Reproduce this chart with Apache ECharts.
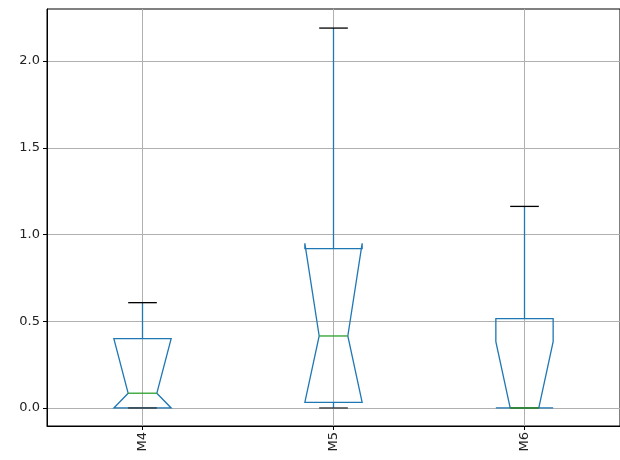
<!DOCTYPE html>
<html>
<head>
<meta charset="utf-8">
<script src="https://cdn.jsdelivr.net/npm/echarts@6/dist/echarts.min.js"></script>
<style>
  html, body { margin: 0; padding: 0; background: #fff; }
  #chart { width: 620px; height: 460px; }
</style>
</head>
<body>
<div id="chart"></div>
<script>
// Notched box plot summaries per group
const categories  = ['M4', 'M5', 'M6'];
const whiskerLow  = [0.0, 0.0, 0.0];
const q1          = [0.0, 0.032, 0.0];
const notchLow    = [0.0, 0.032, 0.0];
const median      = [0.085, 0.415, 0.0];
const notchHigh   = [0.40, 0.949, 0.382];
const q3          = [0.40, 0.918, 0.515];
const whiskerHigh = [0.607, 2.19, 1.162];
const yTicks      = [0.0, 0.5, 1.0, 1.5, 2.0];
const xPositions  = categories.map((_, i) => i + 1);

const BOX_WIDTH = 0.3;          // in x-axis units
const CAP_WIDTH = BOX_WIDTH / 2;
const BLUE = '#1f77b4';
const GREEN = '#2ca02c';
const LINE_W = 1.3;

const boxData = categories.map((_, i) => [
  xPositions[i], whiskerLow[i], q1[i], notchLow[i], median[i],
  notchHigh[i], q3[i], whiskerHigh[i]
]);

function renderBox(params, api) {
  const x = api.value(0);
  const wl = api.value(1), b1 = api.value(2), nl = api.value(3);
  const md = api.value(4), nh = api.value(5), b3 = api.value(6), wh = api.value(7);
  const c = (xv, yv) => api.coord([xv, yv]);
  const L = x - BOX_WIDTH / 2, R = x + BOX_WIDTH / 2;
  const CL = x - CAP_WIDTH / 2, CR = x + CAP_WIDTH / 2;

  const boxPts = [
    c(L, b1), c(L, nl), c(CL, md), c(L, nh), c(L, b3),
    c(R, b3), c(R, nh), c(CR, md), c(R, nl), c(R, b1)
  ];
  const line = (p0, p1, color) => ({
    type: 'line',
    shape: { x1: p0[0], y1: p0[1], x2: p1[0], y2: p1[1] },
    style: { stroke: color, lineWidth: LINE_W }
  });

  return {
    type: 'group',
    children: [
      {
        type: 'polygon',
        shape: { points: boxPts },
        style: { fill: 'none', stroke: BLUE, lineWidth: LINE_W, lineJoin: 'miter' }
      },
      line(c(x, b3), c(x, wh), BLUE),
      line(c(x, b1), c(x, wl), BLUE),
      line(c(CL, wh), c(CR, wh), '#000'),
      line(c(CL, wl), c(CR, wl), '#333'),
      line(c(CL, md), c(CR, md), GREEN)
    ]
  };
}

const chart = echarts.init(document.getElementById('chart'), null, { renderer: 'canvas' });
chart.setOption({
  animation: false,
  backgroundColor: '#fff',
  grid: {
    left: 47, top: 9, width: 577, height: 417,
    show: true, borderColor: '#000', borderWidth: 1, backgroundColor: 'transparent'
  },
  xAxis: {
    type: 'value',
    min: 0.5, max: 3.5,
    axisLine: { show: true, onZero: false, lineStyle: { color: '#000', width: 1 } },
    axisTick: { show: true, length: 4, customValues: xPositions, lineStyle: { color: '#000' } },
    axisLabel: {
      customValues: xPositions,
      rotate: 90,
      margin: 6,
      color: '#222',
      fontFamily: 'DejaVu Sans',
      fontSize: 13,
      formatter: v => categories[Math.round(v) - 1] || ''
    },
    splitLine: { show: true, lineStyle: { color: '#b0b0b0', width: 1 } }
  },
  yAxis: {
    type: 'value',
    min: -0.104, max: 2.30,
    axisLine: { show: true, onZero: false, lineStyle: { color: '#000', width: 1 } },
    axisTick: { show: true, length: 4, customValues: yTicks, lineStyle: { color: '#000' } },
    axisLabel: {
      customValues: yTicks,
      margin: 7,
      color: '#222',
      fontFamily: 'DejaVu Sans',
      fontSize: 13,
      formatter: v => v.toFixed(1)
    },
    splitLine: { show: true, lineStyle: { color: '#b0b0b0', width: 1 } }
  },
  series: [{
    type: 'custom',
    renderItem: renderBox,
    encode: { x: 0, y: [1, 2, 3, 4, 5, 6, 7] },
    data: boxData,
    clip: true,
    silent: true
  }]
});
</script>
</body>
</html>
